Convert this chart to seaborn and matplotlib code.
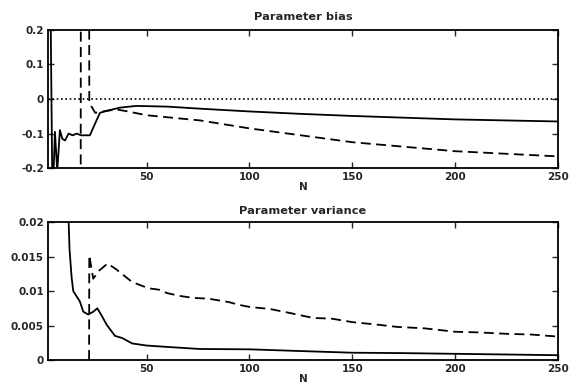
import seaborn as sns
import numpy as np
import matplotlib.pyplot as plt

# Parameter bias (top panel)
bias_solid_n = [2, 3.2, 4.2, 5.4, 6.5, 7.8, 9, 10.3, 12, 14, 16, 18, 20, 22.4, 25,
                27.3, 30, 37, 45, 60, 76, 100, 125, 150, 175, 200, 225, 250]
bias_solid = [0.3, 0.3, -0.3, -0.095, -0.21, -0.09, -0.115, -0.12, -0.10, -0.105,
              -0.10, -0.105, -0.105, -0.105, -0.07, -0.04, -0.035, -0.025, -0.02,
              -0.022, -0.028, -0.036, -0.043, -0.049, -0.054, -0.059, -0.062, -0.065]
bias_dash_n = [17.9, 18, 22, 22.1, 23, 25, 28, 35, 40, 50, 76, 100, 150, 200, 250]
bias_dash = [-0.5, 0.5, 0.5, -0.01, -0.02, -0.04, -0.037, -0.03, -0.035, -0.047,
             -0.062, -0.085, -0.125, -0.151, -0.166]

# Parameter variance (bottom panel)
var_solid_n = [11.5, 12.5, 13.5, 14.3, 16, 17.5, 19.2, 21.6, 24, 26, 28, 30.6, 34.6,
               38, 43, 50, 60, 76, 100, 125, 150, 175, 200, 225, 250]
var_solid = [0.025, 0.016, 0.012, 0.0100, 0.0092, 0.0085, 0.0070, 0.0066, 0.0070,
             0.0075, 0.0065, 0.0051, 0.0035, 0.0032, 0.0024, 0.0021, 0.0019, 0.0016,
             0.00155, 0.0013, 0.00106, 0.0010, 0.0009, 0.0008, 0.0007]
var_dash_n = [22, 22.1, 24, 27, 31, 35, 43, 51, 56, 60, 66, 73, 80, 90, 95, 100, 110,
              120, 131, 140, 150, 160, 172, 185, 200, 212, 225, 237, 250]
var_dash = [0, 0.0152, 0.0118, 0.013, 0.014, 0.0132, 0.0113, 0.0104, 0.0102, 0.0097,
            0.0093, 0.0090, 0.0089, 0.0084, 0.0080, 0.0077, 0.0074, 0.0068, 0.0061,
            0.0060, 0.0055, 0.0052, 0.0048, 0.0046, 0.0041, 0.0040, 0.0038, 0.0037,
            0.0034]

sns.set_style("ticks")
plt.rcParams['font.family'] = ['DejaVu Sans']
plt.rcParams['font.weight'] = 'bold'

fig = plt.figure(figsize=(5.71, 3.83), dpi=100)
ax1 = fig.add_axes([0.084, 0.561, 0.893, 0.361])
ax2 = fig.add_axes([0.084, 0.060, 0.893, 0.360])

lw = 1.3
dash = (0, (5.5, 3))
sns.lineplot(x=bias_solid_n, y=bias_solid, ax=ax1, color='black', lw=lw,
             sort=False, estimator=None)
sns.lineplot(x=bias_dash_n, y=bias_dash, ax=ax1, color='black', lw=lw,
             sort=False, estimator=None, linestyle=dash)
ax1.axhline(0, color='black', lw=1.2, linestyle=(0, (1, 1.6)))
ax1.set_xlim(2, 250)
ax1.set_ylim(-0.2, 0.2)
ax1.set_yticks([-0.2, -0.1, 0, 0.1, 0.2])
ax1.set_yticklabels(['-0.2', '-0.1', '0', '0.1', '0.2'])
ax1.set_title('Parameter bias', fontsize=8.2, fontweight='bold', pad=7)

sns.lineplot(x=var_solid_n, y=var_solid, ax=ax2, color='black', lw=lw,
             sort=False, estimator=None)
sns.lineplot(x=var_dash_n, y=var_dash, ax=ax2, color='black', lw=lw,
             sort=False, estimator=None, linestyle=dash)
ax2.set_xlim(2, 250)
ax2.set_ylim(0, 0.02)
ax2.set_yticks([0, 0.005, 0.01, 0.015, 0.02])
ax2.set_yticklabels(['0', '0.005', '0.01', '0.015', '0.02'])
ax2.set_title('Parameter variance', fontsize=8.2, fontweight='bold', pad=6)

for ax in (ax1, ax2):
    ax.set_xticks([50, 100, 150, 200, 250])
    ax.set_xticklabels(['50', '100', '150', '200', '250'])
    ax.set_xlabel('N', fontsize=7.5, fontweight='bold', labelpad=0)
    ax.tick_params(direction='in', length=4, width=1, top=True, right=True,
                   labelsize=7.5, pad=3)
    for s in ax.spines.values():
        s.set_linewidth(1.3)
        s.set_color('black')

fig.savefig('out.png', dpi=100, facecolor='white')
